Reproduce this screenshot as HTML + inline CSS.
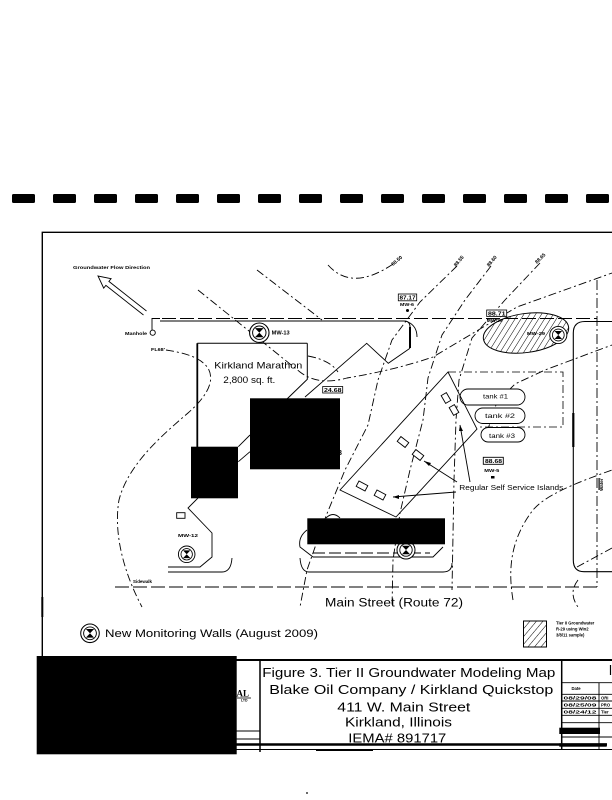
<!DOCTYPE html>
<html>
<head>
<meta charset="utf-8">
<style>
html,body{margin:0;padding:0;background:#fff;}
svg{display:block;}
text{font-family:"Liberation Sans",sans-serif;fill:#000;}
</style>
</head>
<body>
<svg width="612" height="800" viewBox="0 0 612 800" xmlns="http://www.w3.org/2000/svg">
<defs>
  <pattern id="hatch" width="5" height="5" patternUnits="userSpaceOnUse" patternTransform="rotate(40)">
    <line x1="0" y1="0" x2="0" y2="5" stroke="#000" stroke-width="1"/>
  </pattern>
  <g id="well">
    <circle cx="0" cy="0" r="9" fill="#fff" stroke="#000" stroke-width="1"/>
    <circle cx="0" cy="0" r="6.2" fill="none" stroke="#000" stroke-width="0.9"/>
    <path d="M-4,-4.2 L4,-4.2 L-4,4.2 L4,4.2 Z" fill="#000"/>
  </g>
</defs>
<rect width="612" height="800" fill="#fff"/>

<!-- top dash band -->
<g fill="#000">
  <rect x="12" y="194" width="23" height="9" rx="1.5"/>
  <rect x="53" y="194" width="23" height="9" rx="1.5"/>
  <rect x="94" y="194" width="23" height="9" rx="1.5"/>
  <rect x="135" y="194" width="23" height="9" rx="1.5"/>
  <rect x="176" y="194" width="23" height="9" rx="1.5"/>
  <rect x="217" y="194" width="23" height="9" rx="1.5"/>
  <rect x="258" y="194" width="23" height="9" rx="1.5"/>
  <rect x="299" y="194" width="23" height="9" rx="1.5"/>
  <rect x="340" y="194" width="23" height="9" rx="1.5"/>
  <rect x="381" y="194" width="23" height="9" rx="1.5"/>
  <rect x="422" y="194" width="23" height="9" rx="1.5"/>
  <rect x="463" y="194" width="23" height="9" rx="1.5"/>
  <rect x="504" y="194" width="23" height="9" rx="1.5"/>
  <rect x="545" y="194" width="23" height="9" rx="1.5"/>
  <rect x="586" y="194" width="23" height="9" rx="1.5"/>
</g>

<!-- frame -->
<path d="M42.3,656 V232.3 H612" fill="none" stroke="#000" stroke-width="1.4"/>
<rect x="41.3" y="597" width="2" height="20" fill="#000"/>

<!-- contours -->
<g fill="none" stroke="#000" stroke-width="0.9" stroke-dasharray="8 3 2 3">
  <path d="M166,350 C185,353 200,357 208,368 C216,382 205,398 188,413 C160,437 128,465 119,500 C113,535 125,575 142,607"/>
  <path d="M198,290 L300,372 Q318,386 347,378 Q395,370 433,357 L517,307 L612,273"/>
  <path d="M308,356 Q330,360 338,372"/>
  <path d="M257,270 L322,320"/>
  <path d="M328,265 Q352,292 393,264"/>
  <path d="M457,266 L420,302 L392,340 L378,380 L368,425 L345,470 L326,516 L307,570 L300,607"/>
  <path d="M491,266 L465,300 L442,335 L428,378 L423,420 L410,470 L400,513 L393,560 L392,607"/>
  <path d="M540,263 L505,300 L472,338 L459,380 L456,420 L454,480 L452,590"/>
  <path d="M513,600 C508,570 510,540 533,510 C545,496 570,485 612,470"/>
  <path d="M487,432 L497,402 L515,384 L545,370 L612,345"/>
  <path d="M577,567 L612,548"/>
  <path d="M578,580 Q568,593 578,607"/>
</g>

<!-- contour labels -->
<g font-size="5" font-weight="bold">
  <text x="0" y="0" transform="translate(393,266) rotate(-40)">88.50</text>
  <text x="0" y="0" transform="translate(456,267) rotate(-50)">88.55</text>
  <text x="0" y="0" transform="translate(489,267) rotate(-50)">88.60</text>
  <text x="0" y="0" transform="translate(537,264) rotate(-45)">88.65</text>
</g>

<!-- property boundary -->
<g fill="none" stroke="#000" stroke-width="0.9">
  <path d="M162,318.5 H597" stroke-dasharray="14 4"/>
  <path d="M597,280 V587" stroke-dasharray="10 3 2 3"/>
  <path d="M115,587 H597" stroke-dasharray="14 4"/>
  <path d="M152,330 V318.5 H160"/>
  <path d="M160,321 H404 Q410,321 410,327 V348" stroke-width="1"/>
  <path d="M410,327 V348" stroke-width="2"/>
  <path d="M408,322 Q417,326 417,337"/>
  <!-- right curb -->
  <path d="M612,571.7 H584 Q573.3,571.7 573.3,560 V333 Q573.3,321.5 585,321.5 H612" stroke-width="1.1"/>
  <path d="M573.3,413 V447" stroke-width="2.2"/>
</g>

<!-- manhole -->
<circle cx="152.7" cy="332.7" r="2.6" fill="#fff" stroke="#000" stroke-width="0.9"/>
<text x="125" y="335" font-size="4.6" font-weight="bold" textLength="22" lengthAdjust="spacingAndGlyphs">Manhole</text>
<text x="151" y="351" font-size="4.6" font-weight="bold" textLength="14" lengthAdjust="spacingAndGlyphs">FL68'</text>

<!-- groundwater flow arrow -->
<text x="73" y="269" font-size="4.6" font-weight="bold" textLength="77" lengthAdjust="spacingAndGlyphs">Groundwater Flow Direction</text>
<path d="M146.5,311 L108.9,281.4 L111.1,278.7 L98,276 L103.7,288.1 L105.9,285.4 L143.5,315" fill="none" stroke="#000" stroke-width="0.9"/>

<!-- roof / canopy lines near building -->
<path d="M305,397 L366.7,343.3 L388.3,363.3 L410,348.3" fill="none" stroke="#000" stroke-width="0.9"/>

<!-- building -->
<path d="M307.3,343.3 V379.3 L287,399" fill="none" stroke="#000" stroke-width="1"/>
<path d="M197.3,343.3 H307.3" fill="none" stroke="#000" stroke-width="1"/>
<path d="M197.3,447 V343.3" fill="none" stroke="#000" stroke-width="1.8"/>
<text x="214.3" y="368.3" font-size="9.5" textLength="88" lengthAdjust="spacingAndGlyphs">Kirkland Marathon</text>
<text x="223.3" y="383" font-size="9" textLength="52" lengthAdjust="spacingAndGlyphs">2,800 sq. ft.</text>

<!-- MW-13 -->
<use href="#well" transform="translate(259.3,332.7) scale(1.08)"/>
<text x="271.7" y="334.3" font-size="5.5" font-weight="bold" textLength="18" lengthAdjust="spacingAndGlyphs">MW-13</text>

<!-- 24.68 label -->
<rect x="322.7" y="386.5" width="20" height="6.5" fill="#fff" stroke="#000" stroke-width="0.8"/>
<text x="324" y="392" font-size="5" font-weight="bold" textLength="17.5" lengthAdjust="spacingAndGlyphs">24.68</text>

<!-- MW-6 -->
<rect x="398.3" y="294" width="18.4" height="6.8" fill="#fff" stroke="#000" stroke-width="0.8"/>
<text x="399.5" y="299.6" font-size="5" font-weight="bold" textLength="16" lengthAdjust="spacingAndGlyphs">87.17</text>
<text x="400" y="306" font-size="4.8" font-weight="bold" textLength="14" lengthAdjust="spacingAndGlyphs">MW-6</text>
<circle cx="407.5" cy="310.5" r="1.5" fill="#000"/>

<!-- hatched plume -->
<ellipse cx="526" cy="333" rx="43" ry="19.5" transform="rotate(-8 526 333)" fill="url(#hatch)" stroke="#000" stroke-width="1"/>
<rect x="486.7" y="310" width="20" height="6.5" fill="#fff" stroke="#000" stroke-width="0.8"/>
<text x="488" y="315.6" font-size="5" font-weight="bold" textLength="17.5" lengthAdjust="spacingAndGlyphs">88.71</text>
<text x="486.7" y="322" font-size="4.8" font-weight="bold" textLength="16" lengthAdjust="spacingAndGlyphs">MW-29</text>
<use href="#well" transform="translate(558.3,335) scale(0.95)"/>
<text x="527" y="335" font-size="4.6" font-weight="bold" textLength="18" lengthAdjust="spacingAndGlyphs">MW-29</text>

<!-- tank field -->
<path d="M448,372 H563 V427 H477" fill="none" stroke="#000" stroke-width="0.8" stroke-dasharray="8 3 2 3"/>
<g fill="#fff" stroke="#000" stroke-width="0.9">
  <rect x="460" y="389" width="65" height="16" rx="8"/>
  <rect x="475" y="408" width="50" height="15.5" rx="7.75"/>
  <rect x="481" y="427.5" width="44" height="14.5" rx="7.25"/>
</g>
<text x="483" y="398.5" font-size="6.5" textLength="25" lengthAdjust="spacingAndGlyphs">tank #1</text>
<text x="485" y="418" font-size="6.5" textLength="30" lengthAdjust="spacingAndGlyphs">tank #2</text>
<text x="489" y="437.8" font-size="6.5" textLength="26" lengthAdjust="spacingAndGlyphs">tank #3</text>

<!-- canopy -->
<path d="M448,372 L477,429 L396,517 L340,490 Z" fill="none" stroke="#000" stroke-width="0.9"/>
<!-- dispensers -->
<g fill="#fff" stroke="#000" stroke-width="0.9">
  <rect x="-4.5" y="-3" width="9" height="6" transform="translate(446,398) rotate(60)"/>
  <rect x="-4.5" y="-3" width="9" height="6" transform="translate(454,410) rotate(60)"/>
  <rect x="-5" y="-3" width="10" height="6" transform="translate(403,442) rotate(38)"/>
  <rect x="-5" y="-3" width="10" height="6" transform="translate(418,455) rotate(38)"/>
  <rect x="-5" y="-3" width="10" height="6" transform="translate(362,486) rotate(28)"/>
  <rect x="-5" y="-3" width="10" height="6" transform="translate(380,495) rotate(28)"/>
</g>
<!-- leaders -->
<g stroke="#000" stroke-width="0.9" fill="none">
  <path d="M457,482 L424,461"/>
  <path d="M456,492 L393,497"/>
  <path d="M470,482 L460,425"/>
</g>
<g fill="#000">
  <path d="M424,461 L431,463 L429,466 Z"/>
  <path d="M393,497 L399,495 L399,499 Z"/>
  <path d="M460,425 L463,431 L459,431 Z"/>
</g>
<text x="459.3" y="490" font-size="7.5" textLength="104" lengthAdjust="spacingAndGlyphs">Regular Self Service Islands</text>

<!-- MW-5 -->
<rect x="483.3" y="457.3" width="20" height="7" fill="#fff" stroke="#000" stroke-width="0.9"/>
<text x="485" y="463.2" font-size="5" font-weight="bold" textLength="17" lengthAdjust="spacingAndGlyphs">88.68</text>
<text x="484.3" y="472" font-size="4.8" font-weight="bold" textLength="15" lengthAdjust="spacingAndGlyphs">MW-5</text>
<rect x="491" y="476" width="3.5" height="2.5" fill="#000"/>

<!-- Water label -->
<text x="0" y="0" font-size="4.6" font-weight="bold" transform="translate(603,491) rotate(-90)">Water</text>
<rect x="598.5" y="478" width="1.2" height="12" fill="#000"/>

<!-- connectors between redacted boxes -->
<g stroke="#000" stroke-width="0.9" fill="none">
  <path d="M238.3,446.7 L250,435"/>
  <path d="M238.3,461.7 L250,451.7"/>
  <!-- MW-12 island -->
  <path d="M198,498 L188,508 L212,533 V557 L200,567 H168"/>
  <path d="M168,572 H222 Q231,572 232,558"/>
  <!-- bottom-center island -->
  <path d="M307,530 Q298,537 300,547 L313,557 H433 L443,547"/>
  <path d="M300,558 Q301,572 309,572 H443 Q452,572 452,563"/>
  <path d="M326,518 Q333,511 340,518"/>
</g>
<path d="M313,553 H430" stroke="#000" stroke-width="0.9" stroke-dasharray="12 4" fill="none"/>
<rect x="176.7" y="512.7" width="8.3" height="5.6" fill="#fff" stroke="#000" stroke-width="0.9"/>
<text x="178" y="537" font-size="4.8" font-weight="bold" textLength="20" lengthAdjust="spacingAndGlyphs">MW-12</text>
<use href="#well" transform="translate(186.7,554.3) scale(0.92)"/>
<use href="#well" transform="translate(406,550) scale(1)"/>

<text x="133" y="583" font-size="4.2" font-weight="bold" textLength="19" lengthAdjust="spacingAndGlyphs">Sidewalk</text>

<!-- redaction boxes in map -->
<rect x="250" y="398.3" width="90" height="71" fill="#000"/>
<rect x="191" y="446.7" width="47" height="51.6" fill="#000"/>
<rect x="307.3" y="518.3" width="137.7" height="26" fill="#000"/>
<text x="338" y="455" font-size="7" font-weight="bold">8</text>

<!-- street name -->
<text x="325" y="606.7" font-size="11.5" textLength="138" lengthAdjust="spacingAndGlyphs">Main Street (Route 72)</text>

<!-- legend -->
<use href="#well" transform="translate(90,633.3) scale(1.03)"/>
<text x="105" y="637" font-size="11" textLength="213" lengthAdjust="spacingAndGlyphs">New Monitoring Walls (August 2009)</text>
<rect x="523.5" y="621" width="23" height="26" fill="url(#hatch)" stroke="#000" stroke-width="1"/>
<g font-size="4.2" font-weight="bold">
  <text x="556" y="624.5">Tier II Groundwater</text>
  <text x="556" y="630.5">R-29 using Win2</text>
  <text x="556" y="636.5">3/8/11 sample)</text>
</g>

<!-- title block -->
<g stroke="#000" fill="none">
  <path d="M236,660 H612" stroke-width="2"/>
  <path d="M260,660 V752" stroke-width="1.5"/>
  <path d="M561.7,660 V750" stroke-width="1.5"/>
  <path d="M236,731 H260" stroke-width="1"/>
  <path d="M236,739 H260" stroke-width="1"/>
  <path d="M236,744.5 H607" stroke-width="2.6"/>
  <path d="M236,749.5 H612" stroke-width="1"/>
  <path d="M316,750.5 H373" stroke-width="1"/>
  <!-- table -->
  <path d="M561.7,682.7 H612" stroke-width="0.9"/>
  <path d="M561.7,694.3 H612" stroke-width="0.9"/>
  <path d="M561.7,701 H612" stroke-width="0.9"/>
  <path d="M561.7,708.3 H612" stroke-width="0.9"/>
  <path d="M561.7,715.3 H612" stroke-width="0.9"/>
  <path d="M561.7,722.7 H612" stroke-width="0.9"/>
  <path d="M561.7,737 H612" stroke-width="0.9"/>
  <path d="M599,682.7 V750" stroke-width="0.9"/>
  <path d="M610.5,665 V675" stroke-width="1.2"/>
</g>
<rect x="559.3" y="727.7" width="40.7" height="6.3" fill="#000"/>
<rect x="559.3" y="743.3" width="47.4" height="3.4" fill="#000"/>
<g font-size="4.2" font-weight="bold">
  <text x="571.5" y="690">Date</text>
  <text x="563.5" y="699.5" textLength="33" lengthAdjust="spacingAndGlyphs">08/29/08</text>
  <text x="563.5" y="706.5" textLength="33" lengthAdjust="spacingAndGlyphs">08/25/09</text>
  <text x="563.5" y="713.5" textLength="33" lengthAdjust="spacingAndGlyphs">08/24/12</text>
  <text x="601" y="699.5">ORI</text>
  <text x="601" y="706.5">PRO</text>
  <text x="601" y="713.5">Tier</text>
</g>

<text x="262.3" y="677" font-size="12.5" textLength="293" lengthAdjust="spacingAndGlyphs">Figure 3. Tier II Groundwater Modeling Map</text>
<text x="269.3" y="694" font-size="12.5" textLength="284" lengthAdjust="spacingAndGlyphs">Blake Oil Company / Kirkland Quickstop</text>
<text x="337.3" y="711.7" font-size="12.5" textLength="133" lengthAdjust="spacingAndGlyphs">411 W. Main Street</text>
<text x="345" y="726.7" font-size="12.5" textLength="107" lengthAdjust="spacingAndGlyphs">Kirkland, Illinois</text>
<text x="348.3" y="742.5" font-size="12.5" textLength="98" lengthAdjust="spacingAndGlyphs">IEMA# 891717</text>

<!-- company logo remnant -->
<text x="236.5" y="696.5" font-family="Liberation Serif" font-size="9" font-weight="bold" style="font-family:'Liberation Serif',serif">AL</text>
<path d="M237,698 H251" stroke="#000" stroke-width="0.8"/>
<text x="241" y="701.5" font-size="3.5" font-weight="bold">LTD</text>

<!-- big redaction in title block -->
<rect x="36.7" y="656" width="200" height="98.3" fill="#000"/>

<circle cx="307" cy="793" r="0.9" fill="#000"/>
</svg>
</body>
</html>
